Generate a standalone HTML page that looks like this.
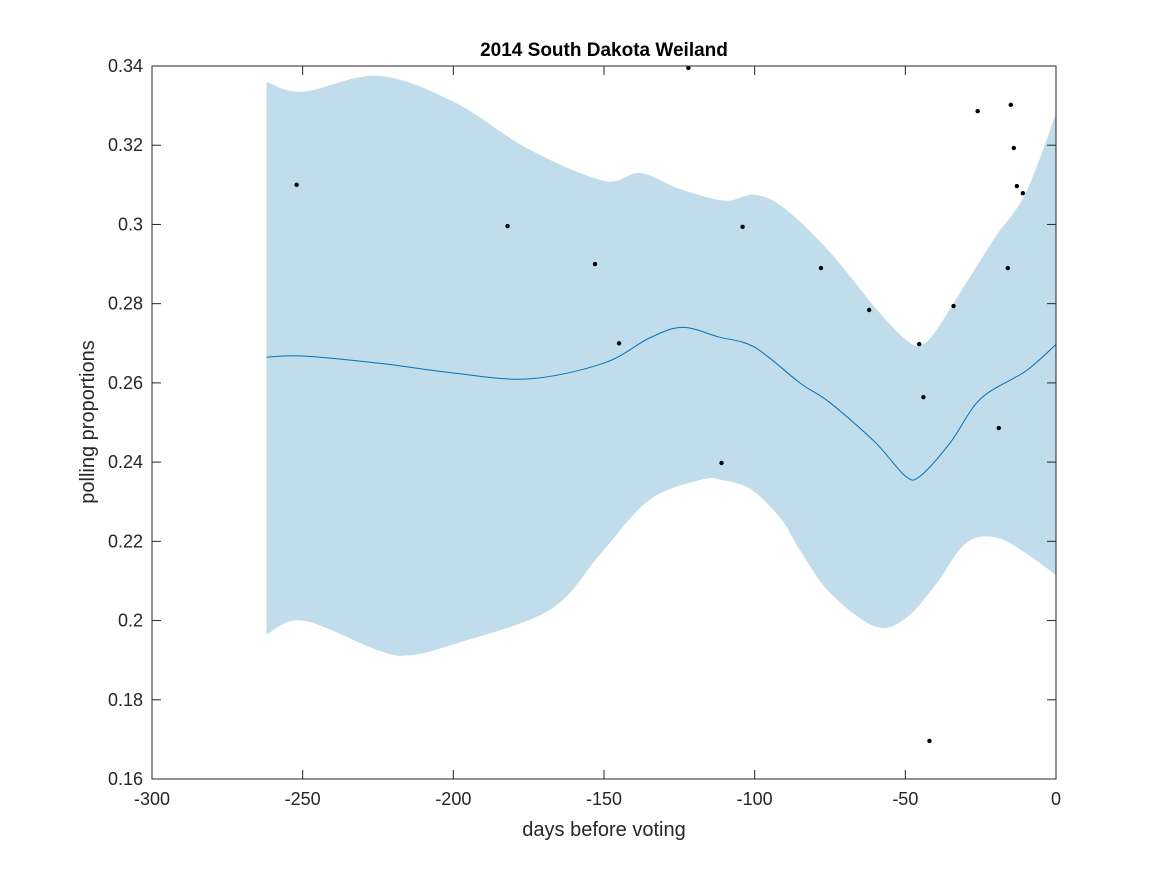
<!DOCTYPE html>
<html><head><meta charset="utf-8"><style>body{margin:0;background:#fff}svg{display:block;font-family:"Liberation Sans",sans-serif}</style></head>
<body>
<svg id="c" width="1167" height="875"></svg>
<script>
const gridX=[-262,-250,-225,-200,-175,-150,-135,-124,-112,-100,-85,-75,-60,-50,-45,-35,-25,-10,0];
const meanY=[0.2665,0.2668,0.265,0.2625,0.261,0.265,0.2713,0.274,0.2716,0.269,0.260,0.255,0.245,0.2365,0.2365,0.245,0.256,0.263,0.2697];
const upX=[-262,-250,-225,-200,-175,-150,-138,-125,-110,-100,-90,-75,-60,-50,-45,-40,-30,-20,-10,0];
const upY=[0.336,0.3335,0.3375,0.331,0.319,0.311,0.313,0.309,0.306,0.3075,0.304,0.293,0.279,0.271,0.2695,0.273,0.285,0.297,0.308,0.328];
const loX=[-262,-250,-225,-215,-200,-168,-151,-135,-118,-111,-101,-91,-85,-75,-60,-50,-40,-30,-20,-10,0];
const loY=[0.1965,0.2,0.1925,0.1912,0.194,0.2027,0.217,0.2304,0.2355,0.2355,0.233,0.2254,0.2178,0.207,0.1985,0.2005,0.209,0.2195,0.221,0.217,0.2115];
const ptX=[-252,-182,-153,-145,-122,-111,-104,-78,-62,-45.4,-44,-42,-34,-26,-19,-16,-15,-14,-13,-11];
const ptY=[0.310,0.2996,0.290,0.270,0.3395,0.2398,0.2994,0.289,0.2784,0.2698,0.2564,0.1696,0.2794,0.3286,0.2486,0.289,0.3302,0.3193,0.3097,0.3079];
const xTicks=[-300,-250,-200,-150,-100,-50,0];
const yTicks=[0.16,0.18,0.2,0.22,0.24,0.26,0.28,0.3,0.32,0.34];
const L=152,R=1056,T=66,B=779;
const sx=v=>L+(v+300)/300*(R-L), sy=v=>B-(v-0.16)/0.18*(B-T);
const svg=document.getElementById('c'),NS='http://www.w3.org/2000/svg';
function mk(t,a,p){const e=document.createElementNS(NS,t);for(const k in a)e.setAttribute(k,a[k]);(p||svg).appendChild(e);return e;}
function curve(xs,ys,start){const P=xs.map((x,i)=>[sx(x),sy(ys[i])]);let d=(start?'M':'L')+P[0][0]+','+P[0][1];
for(let i=0;i<P.length-1;i++){const p0=P[Math.max(0,i-1)],p1=P[i],p2=P[i+1],p3=P[Math.min(P.length-1,i+2)];
d+=`C${p1[0]+(p2[0]-p0[0])/6},${p1[1]+(p2[1]-p0[1])/6} ${p2[0]-(p3[0]-p1[0])/6},${p2[1]-(p3[1]-p1[1])/6} ${p2[0]},${p2[1]}`;}return d;}
const band=mk('path',{d:curve(upX,upY,true)+curve(loX.slice().reverse(),loY.slice().reverse(),false)+'Z',fill:'#c1dcea'});

const ml=mk('path',{d:curve(gridX,meanY,true),fill:'none',stroke:'#0072bd','stroke-width':1});

ptX.forEach((x,i)=>{const c=mk('circle',{cx:sx(x),cy:sy(ptY[i]),r:2.2,fill:'#000'});
});
const ax=mk('rect',{x:L,y:T,width:R-L,height:B-T,fill:'none',stroke:'#262626','stroke-width':1});

xTicks.forEach(v=>{const x=sx(v);mk('line',{x1:x,x2:x,y1:B,y2:B-9,stroke:'#262626'});mk('line',{x1:x,x2:x,y1:T,y2:T+9,stroke:'#262626'});
const t=mk('text',{x:x,y:B+26,'text-anchor':'middle','font-size':18,fill:'#262626'});t.textContent=v;
});
yTicks.forEach(v=>{const y=sy(v);mk('line',{x1:L,x2:L+9,y1:y,y2:y,stroke:'#262626'});mk('line',{x1:R,x2:R-9,y1:y,y2:y,stroke:'#262626'});
const t=mk('text',{x:L-9,y:y+6,'text-anchor':'end','font-size':18,fill:'#262626'});t.textContent=+v.toFixed(2);
});
let t=mk('text',{x:604,y:56,'text-anchor':'middle','font-size':19,'font-weight':'bold',fill:'#000'});t.textContent='2014 South Dakota Weiland';

t=mk('text',{x:604,y:836,'text-anchor':'middle','font-size':20,fill:'#262626'});t.textContent='days before voting';

t=mk('text',{x:94,y:422,'text-anchor':'middle','font-size':20,fill:'#262626',transform:'rotate(-90 94 422)'});t.textContent='polling proportions';

</script>
</body></html>
